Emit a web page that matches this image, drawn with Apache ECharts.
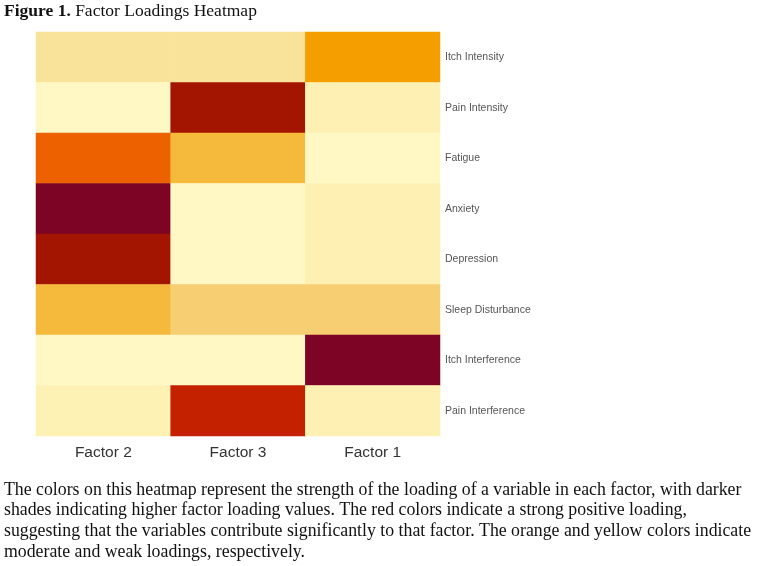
<!DOCTYPE html>
<html>
<head>
<meta charset="utf-8">
<style>
  html, body { margin: 0; padding: 0; background: #fff; }
  #chart { width: 760px; height: 566px; }
</style>
<script src="https://cdn.jsdelivr.net/npm/echarts@6/dist/echarts.min.js"></script>
</head>
<body>
<div id="chart"></div>
<script>
// factor columns, left to right
var factors = ['Factor 2', 'Factor 3', 'Factor 1'];
// variables, top to bottom
var variables = ['Itch Intensity', 'Pain Intensity', 'Fatigue', 'Anxiety', 'Depression',
  'Sleep Disturbance', 'Itch Interference', 'Pain Interference'];
// loadings per factor column (estimated from colour), in variable order
var factor2 = [0.22, 0.02, 0.67, 1.00, 0.89, 0.44, 0.02, 0.10];
var factor3 = [0.22, 0.89, 0.44, 0.02, 0.02, 0.33, 0.02, 0.78];
var factor1 = [0.56, 0.11, 0.02, 0.11, 0.11, 0.33, 1.00, 0.11];

var captionLines = [
  'The colors on this heatmap represent the strength of the loading of a variable in each factor, with darker',
  'shades indicating higher factor loading values. The red colors indicate a strong positive loading,',
  'suggesting that the variables contribute significantly to that factor. The orange and yellow colors indicate',
  'moderate and weak loadings, respectively.'
];

var cols = [factor2, factor3, factor1];
var data = [];
cols.forEach(function (vals, i) {
  vals.forEach(function (v, j) {
    data.push([i, j, v]);
  });
});

var chart = echarts.init(document.getElementById('chart'));
var option = {
  backgroundColor: '#fff',
  animation: false,
  title: {
    left: 4,
    top: 2,
    padding: 0,
    text: '{b|Figure 1.} Factor Loadings Heatmap',
    textStyle: {
      fontFamily: 'Liberation Serif',
      fontSize: 17.5,
      fontWeight: 'normal',
      color: '#111',
      rich: {
        b: { fontFamily: 'Liberation Serif', fontSize: 17.5, fontWeight: 'bold', color: '#111' }
      }
    }
  },
  grid: { left: 36, right: 320, top: 32, bottom: 130 },
  xAxis: {
    type: 'category',
    data: factors,
    axisLine: { show: false },
    axisTick: { show: false },
    splitArea: { show: false },
    axisLabel: { color: '#333', fontSize: 15.5, fontFamily: 'Liberation Sans', margin: 9 }
  },
  yAxis: {
    type: 'category',
    data: variables,
    inverse: true,
    position: 'right',
    axisLine: { show: false },
    axisTick: { show: false },
    axisLabel: { color: '#555', fontSize: 10.5, fontFamily: 'Liberation Sans', margin: 5 }
  },
  visualMap: {
    show: false,
    min: 0,
    max: 1,
    calculable: false,
    inRange: {
      color: ['#fffac8', '#fef0b2', '#f9e29a', '#f7cd70', '#f5b83a',
        '#f5a000', '#ee6300', '#c42100', '#a31500', '#7d0425']
    }
  },
  series: [{
    type: 'heatmap',
    data: data,
    label: { show: false },
    itemStyle: { borderWidth: 0 }
  }],
  graphic: captionLines.map(function (line, k) {
    return {
      type: 'text',
      left: 4,
      top: 481 + k * 20.7,
      style: {
        text: line,
        font: '17.8px "Liberation Serif"',
        fill: '#111'
      }
    };
  })
};
chart.setOption(option);
</script>
</body>
</html>
